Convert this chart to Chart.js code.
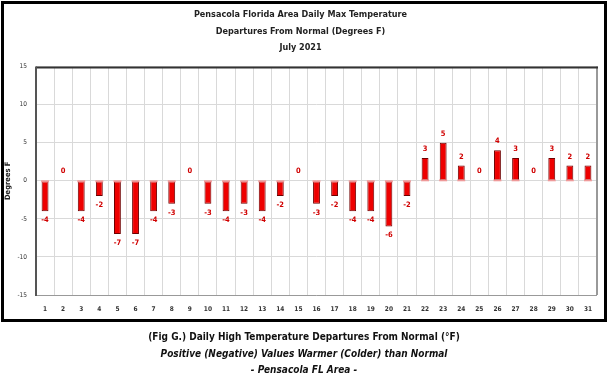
<!DOCTYPE html>
<html>
<head>
<meta charset="utf-8">
<script src="https://cdn.jsdelivr.net/npm/chart.js@4.4.1/dist/chart.umd.min.js"></script>
<style>
  html, body { margin: 0; padding: 0; background: #fff; }
  #wrap { position: relative; width: 608px; height: 379px; overflow: hidden; }
  #frame { position: absolute; left: 1px; top: 1px; width: 600px; height: 315px; border: 3px solid #000; pointer-events: none; }
  #chart { position: absolute; left: 0; top: 0; }
  #caption { position: absolute; left: 0; top: 328px; width: 608px; text-align: center;
    font-family: "DejaVu Sans Condensed", "Liberation Sans Narrow", "Open Sans", sans-serif; font-weight: bold; font-size: 10px; line-height: 17.5px; color: #111; }
  #caption .it { font-style: italic; line-height: 16.5px; }
</style>
</head>
<body>
<div id="wrap">
  <canvas id="chart" width="608" height="379"></canvas>
  <div id="frame"></div>
  <div id="caption">
    <div>(Fig G.) Daily High Temperature Departures From Normal (°F)</div>
    <div class="it">Positive (Negative) Values Warmer (Colder) than Normal</div>
    <div class="it">- Pensacola FL Area -</div>
  </div>
</div>
<script>
const days = ["1","2","3","4","5","6","7","8","9","10","11","12","13","14","15","16","17","18","19","20","21","22","23","24","25","26","27","28","29","30","31"];
const departures = [-4,0,-4,-2,-7,-7,-4,-3,0,-3,-4,-3,-4,-2,0,-3,-2,-4,-4,-6,-2,3,5,2,0,4,3,0,3,2,2];
const titleLines = ["Pensacola Florida Area Daily Max Temperature", "Departures From Normal (Degrees F)", "July 2021"];
const yTitle = "Degrees F";
const yMin = -15, yMax = 15, yStep = 5;

const FONT = '"DejaVu Sans Condensed", "Liberation Sans Narrow", "Open Sans", sans-serif';

const framePlugin = {
  id: 'plotFrame',
  afterDraw(chart) {
    const a = chart.chartArea, c = chart.ctx;
    c.save();
    c.lineWidth = 2;
    c.strokeStyle = '#999';
    c.beginPath(); c.moveTo(a.right, a.top); c.lineTo(a.right, a.bottom); c.stroke();
    c.lineWidth = 1;
    c.beginPath(); c.moveTo(a.left, a.bottom + 0.5); c.lineTo(a.right, a.bottom + 0.5); c.stroke();
    c.strokeStyle = '#333'; c.lineWidth = 2;
    c.beginPath(); c.moveTo(a.left, a.top + 1); c.lineTo(a.right + 1, a.top + 1); c.stroke();
    c.strokeStyle = '#555';
    c.beginPath(); c.moveTo(a.left, a.top); c.lineTo(a.left, a.bottom + 1); c.stroke();
    c.restore();
  }
};

const barDeco = {
  id: 'barDeco',
  afterDatasetsDraw(chart) {
    const c = chart.ctx;
    const meta = chart.getDatasetMeta(0);
    c.save();
    meta.data.forEach((bar, i) => {
      const v = departures[i];
      const w = bar.width;
      if (v !== 0) {
        c.fillStyle = 'rgba(240,150,150,0.95)';
        const capH = 2;
        const y0 = v < 0 ? bar.base - 1 : bar.base - capH + 1;
        c.fillRect(bar.x - w / 2 - 0.5, y0, w + 1, capH);
      }
      c.fillStyle = '#d00000';
      c.font = 'bold 7.5px ' + FONT;
      c.textAlign = 'center';
      c.textBaseline = 'middle';
      let ly;
      if (v > 0) ly = bar.y - 9;
      else if (v < 0) ly = bar.y + 9;
      else ly = bar.base - 10;
      c.fillText(String(v), bar.x, ly);
    });
    c.restore();
  }
};

const ctx = document.getElementById('chart').getContext('2d');
new Chart(ctx, {
  type: 'bar',
  data: {
    labels: days,
    datasets: [{
      data: departures,
      backgroundColor: (context) => {
        const chart = context.chart;
        const el = context.element;
        if (!el || !chart.chartArea || !Number.isFinite(el.x) || !Number.isFinite(el.width)) return '#ee0000';
        const x = el.x, w = el.width;
        const g = chart.ctx.createLinearGradient(x - w / 2, 0, x + w / 2, 0);
        g.addColorStop(0, '#b00000');
        g.addColorStop(0.3, '#ff0000');
        g.addColorStop(0.65, '#e80000');
        g.addColorStop(1, '#800000');
        return g;
      },
      borderColor: '#6e0000',
      borderWidth: 1,
      borderSkipped: false,
      barPercentage: 0.38,
      categoryPercentage: 1.0
    }]
  },
  options: {
    responsive: false,
    animation: false,
    layout: { padding: { left: 4, right: 11, top: 0, bottom: 62 } },
    plugins: {
      legend: { display: false },
      tooltip: { enabled: false },
      title: {
        display: true,
        text: titleLines,
        color: '#222',
        font: { family: FONT, size: 9, weight: 'bold', lineHeight: 1.8 },
        padding: { top: 7, bottom: 11 }
      }
    },
    scales: {
      x: {
        grid: { display: true, offset: true, color: '#d9d9d9', lineWidth: 1, drawTicks: false },
        border: { display: false },
        ticks: { color: '#333', font: { family: FONT, size: 6.5, weight: 'bold' }, padding: 10, maxRotation: 0, autoSkip: false },
        afterFit(scale) { scale.height = 22; }
      },
      y: {
        min: yMin, max: yMax,
        ticks: { stepSize: yStep, color: '#333', font: { family: FONT, size: 6.5 }, padding: 9 },
        grid: { color: '#d9d9d9', lineWidth: 1, drawTicks: false },
        border: { display: false },
        title: { display: true, text: yTitle, color: '#222', font: { family: FONT, size: 7.5, weight: 'bold' }, padding: { top: 0, bottom: 4 } },
        afterFit(scale) { scale.width = 32; }
      }
    }
  },
  plugins: [framePlugin, barDeco]
});
</script>
</body>
</html>
